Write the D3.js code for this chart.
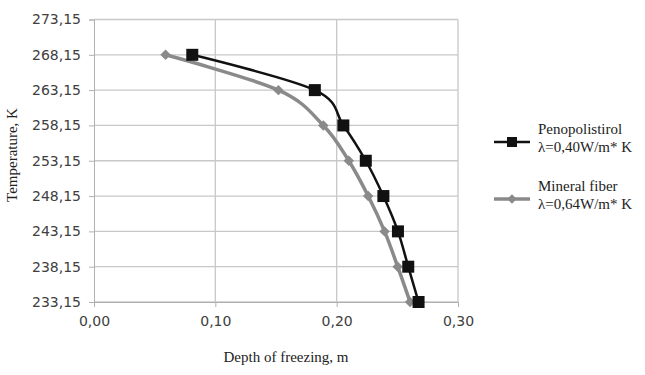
<!DOCTYPE html>
<html>
<head>
<meta charset="utf-8">
<script src="https://cdn.jsdelivr.net/npm/d3@7"></script>
<style>
  body { margin: 0; background: #fff; }
  svg { display: block; }
  .tick-label { font-family: "DejaVu Sans", sans-serif; font-size: 14px; fill: #404040; }
  .title { font-family: "Liberation Serif", serif; font-size: 15px; fill: #222; }
</style>
</head>
<body>
<svg id="chart" width="645" height="375"></svg>
<script>
var temps = [268.15, 263.15, 258.15, 253.15, 248.15, 243.15, 238.15, 233.15];
var penoDepth = [0.081, 0.182, 0.2055, 0.224, 0.2385, 0.2505, 0.259, 0.2675];
var fiberDepth = [0.059, 0.152, 0.189, 0.21, 0.226, 0.2395, 0.2503, 0.2605];
var yTicks = [233.15, 238.15, 243.15, 248.15, 253.15, 258.15, 263.15, 268.15, 273.15];
var xTicks = [0, 0.1, 0.2, 0.3];
var seriesNames = [["Penopolistirol", "\u03bb=0,40W/m* K"], ["Mineral fiber", "\u03bb=0,64W/m* K"]];

var svg = d3.select("#chart");
var plotLeft = 94, plotRight = 458, plotTop = 19.5, plotBottom = 302;

var x = d3.scaleLinear().domain([0, 0.3]).range([plotLeft, plotRight]);
var y = d3.scaleLinear().domain([233.15, 273.15]).range([plotBottom, plotTop]);
var fmt = function(d) { return d3.format(".2f")(d).replace(".", ","); };

// grid
svg.append("g").selectAll("line.h").data(yTicks).enter().append("line")
  .attr("x1", plotLeft).attr("x2", plotRight)
  .attr("y1", function(d) { return y(d); }).attr("y2", function(d) { return y(d); })
  .attr("stroke", "#c8c8c8").attr("stroke-width", 1.3);
svg.append("g").selectAll("line.v").data(xTicks.slice(1)).enter().append("line")
  .attr("x1", function(d) { return x(d); }).attr("x2", function(d) { return x(d); })
  .attr("y1", plotTop).attr("y2", plotBottom)
  .attr("stroke", "#c8c8c8").attr("stroke-width", 1.3);

// axes
var yAxis = d3.axisLeft(y).tickValues(yTicks).tickSize(5).tickPadding(8).tickFormat(fmt);
var gy = svg.append("g").attr("transform", "translate(" + plotLeft + ",0)").call(yAxis);
var xAxis = d3.axisBottom(x).tickValues(xTicks).tickSize(5).tickPadding(9).tickFormat(fmt);
var gx = svg.append("g").attr("transform", "translate(0," + plotBottom + ")").call(xAxis);
[gy, gx].forEach(function(g) {
  g.select(".domain").attr("stroke", "#b0b0b0");
  g.selectAll(".tick line").attr("stroke", "#b0b0b0");
  g.selectAll(".tick text").attr("class", "tick-label").attr("fill", null);
});

// titles
svg.append("text").attr("class", "title").attr("x", 286).attr("y", 362)
  .attr("text-anchor", "middle").text("Depth of freezing, m");
svg.append("text").attr("class", "title")
  .attr("transform", "translate(17,155) rotate(-90)")
  .attr("text-anchor", "middle").text("Temperature, K");

// lines
var line = d3.line().curve(d3.curveCatmullRom.alpha(0))
  .x(function(d) { return x(d[0]); }).y(function(d) { return y(d[1]); });
var fiberPts = fiberDepth.map(function(d, i) { return [d, temps[i]]; });
var penoPts = penoDepth.map(function(d, i) { return [d, temps[i]]; });

svg.append("path").datum(fiberPts).attr("d", line)
  .attr("fill", "none").attr("stroke", "#8a8a8a").attr("stroke-width", 3.5);
svg.append("g").selectAll("path").data(fiberPts).enter().append("path")
  .attr("d", d3.symbol().type(d3.symbolDiamond2).size(70))
  .attr("transform", function(d) { return "translate(" + x(d[0]) + "," + y(d[1]) + ")"; })
  .attr("fill", "#8a8a8a");

svg.append("path").datum(penoPts).attr("d", line)
  .attr("fill", "none").attr("stroke", "#111").attr("stroke-width", 2.5);
svg.append("g").selectAll("rect").data(penoPts).enter().append("rect")
  .attr("x", function(d) { return x(d[0]) - 6; }).attr("y", function(d) { return y(d[1]) - 6; })
  .attr("width", 12).attr("height", 12).attr("fill", "#111");

// legend
var lg = svg.append("g");
var legendRows = [{ y: 142, color: "#111", w: 2.5, ty: 134 }, { y: 199, color: "#8a8a8a", w: 3.5, ty: 191 }];
legendRows.forEach(function(r, i) {
  lg.append("line").attr("x1", 494).attr("x2", 530).attr("y1", r.y).attr("y2", r.y)
    .attr("stroke", r.color).attr("stroke-width", r.w);
  if (i === 0) {
    lg.append("rect").attr("x", 507).attr("y", r.y - 5).attr("width", 10).attr("height", 10).attr("fill", r.color);
  } else {
    lg.append("path").attr("d", d3.symbol().type(d3.symbolDiamond2).size(55))
      .attr("transform", "translate(512," + r.y + ")").attr("fill", r.color);
  }
  lg.append("text").attr("class", "title").attr("x", 538).attr("y", r.ty).text(seriesNames[i][0]);
  lg.append("text").attr("class", "title").attr("x", 538).attr("y", r.ty + 18).text(seriesNames[i][1]);
});
</script>
</body>
</html>
